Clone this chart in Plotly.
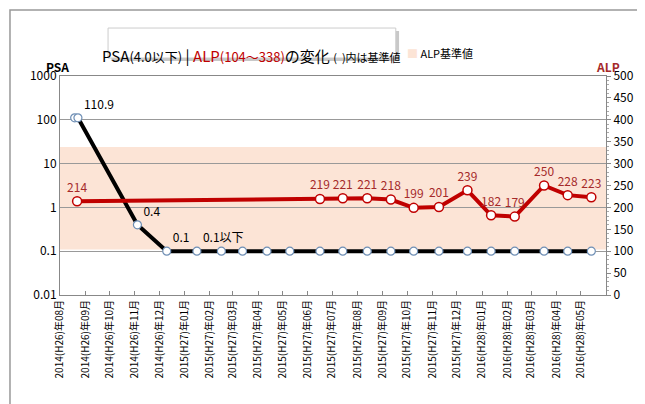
import plotly.graph_objects as go

# PSA (log scale, left axis)
psa_dates = ["2014-08-19", "2014-08-23", "2014-11-04", "2014-12-10", "2015-01-16",
             "2015-02-15", "2015-03-13", "2015-04-12", "2015-05-10", "2015-06-16",
             "2015-07-14", "2015-08-13", "2015-09-11", "2015-10-09", "2015-11-09",
             "2015-12-14", "2016-01-12", "2016-02-10", "2016-03-17", "2016-04-15",
             "2016-05-14"]
psa_values = [110.9, 110.9, 0.4, 0.1, 0.1, 0.1, 0.1, 0.1, 0.1, 0.1, 0.1,
              0.1, 0.1, 0.1, 0.1, 0.1, 0.1, 0.1, 0.1, 0.1, 0.1]
psa_labels = ["", "110.9", "0.4", "0.1", "0.1以下"] + [""] * 16

# ALP (right axis)
alp_dates = ["2014-08-22", "2015-06-16", "2015-07-14", "2015-08-13", "2015-09-11",
             "2015-10-09", "2015-11-09", "2015-12-14", "2016-01-12", "2016-02-10",
             "2016-03-17", "2016-04-15", "2016-05-14"]
alp_values = [214, 219, 221, 221, 218, 199, 201, 239, 182, 179, 250, 228, 223]
alp_range = [104, 338]

months = ["2014-08", "2014-09", "2014-10", "2014-11", "2014-12", "2015-01", "2015-02",
          "2015-03", "2015-04", "2015-05", "2015-06", "2015-07", "2015-08", "2015-09",
          "2015-10", "2015-11", "2015-12", "2016-01", "2016-02", "2016-03", "2016-04",
          "2016-05"]
heisei = {"2014": "H26", "2015": "H27", "2016": "H28"}
month_labels = [f"{m[:4]}({heisei[m[:4]]})年{m[5:]}月" for m in months]

font = "Noto Sans CJK JP"
dark_red = "#C00000"

fig = go.Figure()
fig.add_trace(go.Scatter(
    x=alp_dates, y=alp_values, yaxis="y2", mode="lines+markers+text",
    line=dict(color=dark_red, width=4),
    marker=dict(size=9, color="white", line=dict(color=dark_red, width=1.5)),
    text=[str(v) for v in alp_values], textposition="top center",
    textfont=dict(color="#A52A2A", size=12), showlegend=False, cliponaxis=False))
fig.add_trace(go.Scatter(
    x=psa_dates, y=psa_values, mode="lines+markers+text",
    line=dict(color="black", width=4),
    marker=dict(size=8, color="white", line=dict(color="#6F8FB5", width=1.2)),
    text=psa_labels, textposition="top right",
    textfont=dict(color="black", size=12), showlegend=False, cliponaxis=False))

fig.add_shape(type="rect", xref="paper", x0=0, x1=1, yref="y2",
              y0=alp_range[0], y1=alp_range[1], fillcolor="#FCE4D6",
              line=dict(width=0), layer="below")

fig.update_layout(
    width=645, height=404, paper_bgcolor="white", plot_bgcolor="white",
    margin=dict(l=52, r=47, t=68, b=117),
    font=dict(family=font, size=11, color="black"),
    xaxis=dict(range=["2014-08-01", "2016-06-01"], tickvals=[m + "-01" for m in months],
               ticktext=month_labels, tickangle=-90, ticks="inside", ticklen=4,
               tickcolor="#888", showgrid=False, showline=True, linecolor="#888",
               mirror=True, tickfont=dict(size=10)),
    yaxis=dict(type="log", range=[-2, 3], tickvals=[0.01, 0.1, 1, 10, 100, 1000],
               ticktext=["0.01", "0.1", "1", "10", "100", "1000"],
               showgrid=True, gridcolor="#999", gridwidth=1, showline=True,
               linecolor="#888", tickfont=dict(size=12), zeroline=False),
    yaxis2=dict(overlaying="y", side="right", range=[0, 500], dtick=50,
                showgrid=False, showline=True, linecolor="#888", ticks="outside",
                ticklen=4, tickcolor="#888",
                minor=dict(dtick=10, ticks="outside", ticklen=2, tickcolor="#aaa"),
                tickfont=dict(size=12), zeroline=False),
    shapes=list(fig.layout.shapes) + [
        dict(type="rect", xref="paper", yref="paper", x0=-0.0916, x1=1.082,
             y0=-0.525, y1=1.301, line=dict(color="#999", width=1.5)),
        dict(type="rect", xref="paper", yref="paper", x0=0.094, x1=0.621,
             y0=1.068, y1=1.205, fillcolor="#c8c8c8", line=dict(width=0)),
        dict(type="rect", xref="paper", yref="paper", x0=0.088, x1=0.615,
             y0=1.082, y1=1.219, fillcolor="white", line=dict(color="#ccc", width=1)),
    ],
    annotations=[
        dict(xref="paper", yref="paper", x=0.351, y=1.15, showarrow=False,
             text="PSA<span style='font-size:13px'>(4.0以下)</span> | "
                  "<span style='color:#C00000'>ALP<span style='font-size:13px'>(104～338)</span></span>"
                  "の変化 <span style='font-size:11px'>(  )内は基準値</span>",
             font=dict(size=15, color="black")),
        dict(xref="paper", yref="paper", x=0.76, y=1.15, showarrow=False,
             text="<span style='color:#FCE4D6'>■</span> ALP基準値", font=dict(size=11)),
        dict(xref="paper", yref="paper", x=-0.03, y=1.045, showarrow=False,
             text="<b>PSA</b>", font=dict(size=12), yanchor="middle"),
        dict(xref="paper", yref="paper", x=1.03, y=1.045, showarrow=False,
             text="<b>ALP</b>", font=dict(size=12, color="#A52A2A"), yanchor="middle"),
    ],
)

fig.write_html("out.html")
